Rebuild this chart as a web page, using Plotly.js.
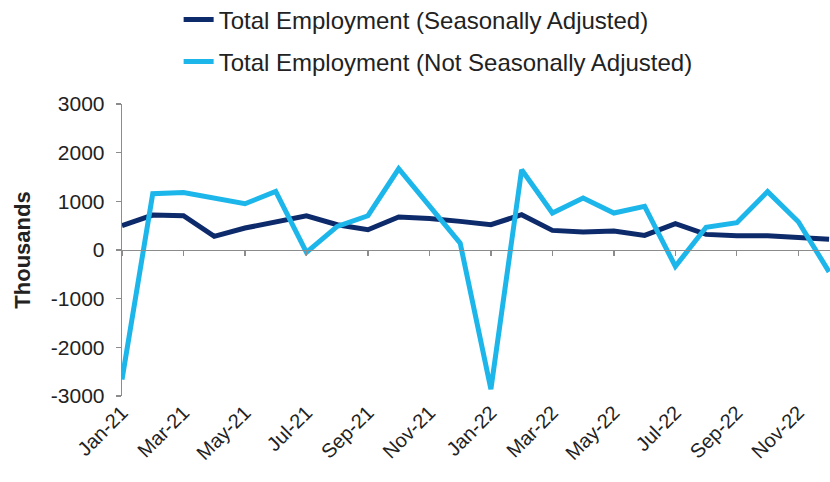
<!DOCTYPE html>
<html>
<head>
<meta charset="utf-8">
<script src="https://cdn.plot.ly/plotly-3.0.1.min.js"></script>
<style>html,body{margin:0;padding:0;background:#fff;}#chart{width:830px;height:482px;}</style>
</head>
<body>
<div id="chart"></div>
<script>
const months = ["Jan-21","Feb-21","Mar-21","Apr-21","May-21","Jun-21","Jul-21","Aug-21","Sep-21","Oct-21","Nov-21","Dec-21",
                "Jan-22","Feb-22","Mar-22","Apr-22","May-22","Jun-22","Jul-22","Aug-22","Sep-22","Oct-22","Nov-22","Dec-22"];
const seasonallyAdjusted = [500, 718, 704, 280, 451, 574, 704, 519, 417, 677, 649, 588,
                            520, 725, 403, 369, 390, 300, 540, 321, 294, 294, 260, 223];
const notSeasonallyAdjusted = [-2663, 1156, 1183, 1067, 950, 1204, -48, 486, 704, 1669, 890, 143,
                               -2860, 1649, 760, 1067, 760, 896, -336, 466, 560, 1200, 580, -450];
const xTickLabels = months.filter((m, i) => i % 2 === 0);
const yTickValues = [-3000, -2000, -1000, 0, 1000, 2000, 3000];

const FONT = '"Liberation Sans", Arial, sans-serif';
const AXIS = '#8c8c8c';

const traces = [
  {x: months, y: seasonallyAdjusted, type: 'scatter', mode: 'lines',
   name: 'Total Employment (Seasonally Adjusted)',
   line: {color: '#0d2a6b', width: 5}, legend: 'legend', xaxis: 'x', yaxis: 'y'},
  {x: months, y: notSeasonallyAdjusted, type: 'scatter', mode: 'lines',
   name: 'Total Employment (Not Seasonally Adjusted)',
   line: {color: '#1db6ea', width: 5}, legend: 'legend2', xaxis: 'x2', yaxis: 'y'}
];

const layout = {
  width: 830, height: 482,
  margin: {l: 122, r: 0, t: 104, b: 86, autoexpand: false},
  paper_bgcolor: '#fff', plot_bgcolor: '#fff',
  font: {family: FONT, color: '#222', size: 18},
  xaxis: {
    type: 'category', range: [0, 23.03], fixedrange: true, automargin: false,
    showline: false, showgrid: false, zeroline: false, ticks: '',
    tickmode: 'array', tickvals: xTickLabels, ticktext: xTickLabels,
    tickangle: -45, tickfont: {size: 20, color: '#222'}, ticklabelstandoff: 0
  },
  xaxis2: {
    type: 'category', range: [0, 23.03], overlaying: 'x', anchor: 'free', position: 0.5,
    showline: true, linecolor: AXIS, linewidth: 1.3, showgrid: false, zeroline: false,
    ticks: 'outside', ticklen: 5, tickcolor: AXIS, tickwidth: 1.3,
    tickmode: 'array', tickvals: xTickLabels, showticklabels: false
  },
  yaxis: {
    range: [-3000, 3000], fixedrange: true, automargin: false,
    showline: true, linecolor: AXIS, linewidth: 1.3,
    ticks: 'outside', ticklen: 5, tickcolor: AXIS, tickwidth: 1.3,
    tickmode: 'array', tickvals: yTickValues, ticktext: yTickValues.map(String),
    showgrid: false, zeroline: false,
    tickfont: {size: 21, color: '#222'}, ticklabelstandoff: 7,
    title: {text: 'Thousands', font: {size: 22, color: '#222', weight: 'bold'}, standoff: 14}
  },
  showlegend: true,
  legend: {x: 0.08, xanchor: 'left', y: 1.288, yanchor: 'middle', orientation: 'v',
           bgcolor: 'rgba(0,0,0,0)', font: {size: 24, color: '#222'}},
  legend2: {x: 0.08, xanchor: 'left', y: 1.144, yanchor: 'middle', orientation: 'v',
           bgcolor: 'rgba(0,0,0,0)', font: {size: 24, color: '#222'}}
};

Plotly.newPlot('chart', traces, layout, {displayModeBar: false, staticPlot: true});
</script>
</body>
</html>
